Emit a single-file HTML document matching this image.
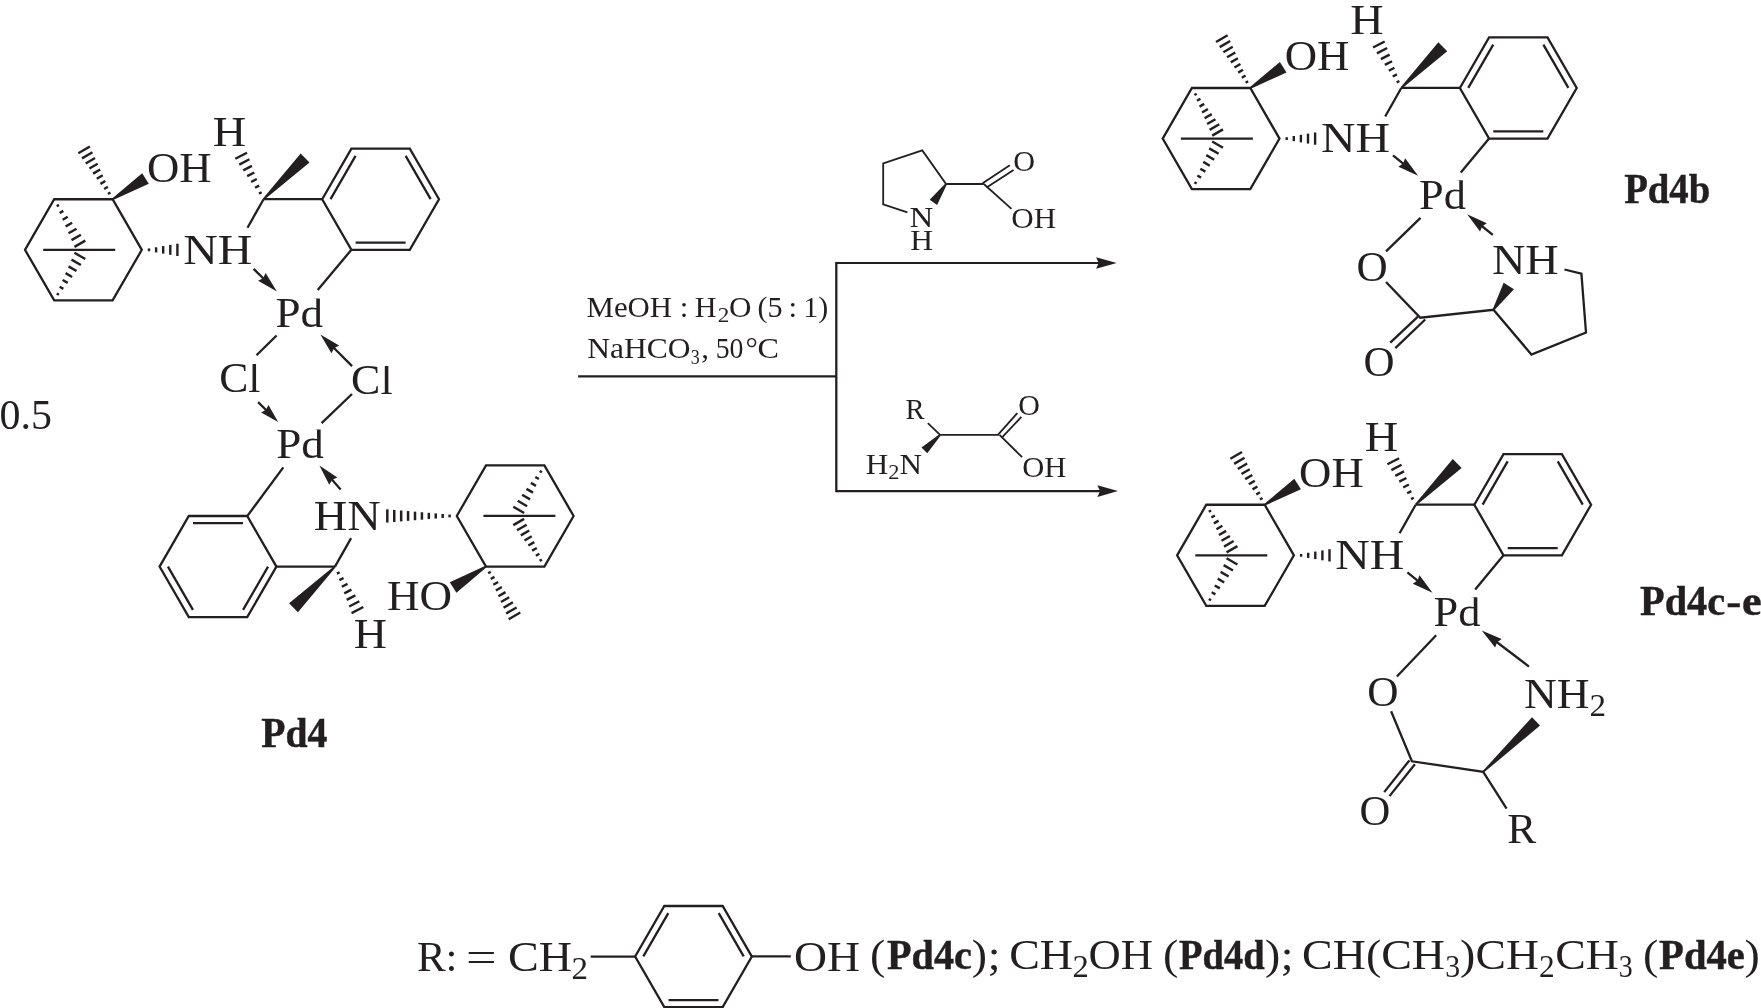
<!DOCTYPE html>
<html><head><meta charset="utf-8"><title>Scheme</title>
<style>
html,body{margin:0;padding:0;background:#fff;}
body{width:1761px;height:1008px;overflow:hidden;font-family:"Liberation Serif",serif;}
svg{display:block;will-change:transform;}
svg text{font-family:"Liberation Serif",serif;fill:#231f20;stroke:none;}
</style></head><body>
<svg width="1761" height="1008" viewBox="0 0 1761 1008" stroke="#231f20" stroke-width="2.3" stroke-linecap="butt" stroke-linejoin="miter" fill="none">
<defs><clipPath id="capclip"><rect x="-5" y="-28.3" width="80" height="45"/></clipPath></defs>
<polygon points="25,249.85 54.2,199.27 112.6,199.27 141.8,249.85 112.6,300.43 54.2,300.43" fill="none"/>
<line x1="43.2" y1="249.85" x2="115.2" y2="249.85"/>
<line x1="58.95" y1="204.9" x2="56.7" y2="206.2" stroke-width="2.4"/>
<line x1="63.34" y1="210.86" x2="59.66" y2="212.98" stroke-width="2.4"/>
<line x1="67.73" y1="216.81" x2="62.62" y2="219.76" stroke-width="2.4"/>
<line x1="72.12" y1="222.76" x2="65.58" y2="226.54" stroke-width="2.4"/>
<line x1="76.51" y1="228.71" x2="68.54" y2="233.31" stroke-width="2.4"/>
<line x1="80.9" y1="234.67" x2="71.5" y2="240.09" stroke-width="2.4"/>
<line x1="85.29" y1="240.62" x2="74.46" y2="246.87" stroke-width="2.4"/>
<line x1="56.7" y1="293.5" x2="58.95" y2="294.8" stroke-width="2.4"/>
<line x1="59.66" y1="286.72" x2="63.34" y2="288.84" stroke-width="2.4"/>
<line x1="62.62" y1="279.94" x2="67.73" y2="282.89" stroke-width="2.4"/>
<line x1="65.58" y1="273.16" x2="72.12" y2="276.94" stroke-width="2.4"/>
<line x1="68.54" y1="266.39" x2="76.51" y2="270.99" stroke-width="2.4"/>
<line x1="71.5" y1="259.61" x2="80.9" y2="265.03" stroke-width="2.4"/>
<line x1="74.46" y1="252.83" x2="85.29" y2="259.08" stroke-width="2.4"/>
<line x1="107.85" y1="194.05" x2="110.45" y2="192.55" stroke-width="2.4"/>
<line x1="104.16" y1="188.95" x2="107.88" y2="186.8" stroke-width="2.4"/>
<line x1="100.46" y1="183.86" x2="105.31" y2="181.06" stroke-width="2.4"/>
<line x1="96.77" y1="178.76" x2="102.75" y2="175.31" stroke-width="2.4"/>
<line x1="93.08" y1="173.66" x2="100.18" y2="169.56" stroke-width="2.4"/>
<line x1="89.39" y1="168.57" x2="97.61" y2="163.82" stroke-width="2.4"/>
<line x1="85.69" y1="163.47" x2="95.05" y2="158.07" stroke-width="2.4"/>
<line x1="82" y1="158.37" x2="92.48" y2="152.32" stroke-width="2.4"/>
<line x1="78.31" y1="153.28" x2="89.91" y2="146.58" stroke-width="2.4"/>
<polygon points="113.08,200.03 148.82,183.64 142.18,173.16 112.12,198.51" fill="#231f20" stroke="none"/>
<line x1="149" y1="248.45" x2="149" y2="251.25" stroke-width="2.4"/>
<line x1="156.1" y1="247.26" x2="156.1" y2="252.44" stroke-width="2.4"/>
<line x1="163.2" y1="246.07" x2="163.2" y2="253.62" stroke-width="2.4"/>
<line x1="170.3" y1="244.89" x2="170.3" y2="254.81" stroke-width="2.4"/>
<line x1="177.4" y1="243.7" x2="177.4" y2="256" stroke-width="2.4"/>
<line x1="263.6" y1="199.2" x2="247.5" y2="227.7"/>
<polygon points="322.2,199.2 351.4,148.62 409.8,148.62 439,199.2 409.8,249.78 351.4,249.78" fill="none"/>
<line x1="263.6" y1="199.2" x2="322.2" y2="199.2"/>
<line x1="330.54" y1="199.16" x2="355.54" y2="155.86"/>
<line x1="405.66" y1="155.86" x2="430.66" y2="199.16"/>
<line x1="405.6" y1="242.58" x2="355.6" y2="242.58"/>
<polygon points="264.23,199.84 309.53,162.58 300.67,153.62 262.97,198.56" fill="#231f20" stroke="none"/>
<line x1="259.01" y1="193.58" x2="261.68" y2="192.2" stroke-width="2.4"/>
<line x1="255.06" y1="187.78" x2="259.23" y2="185.62" stroke-width="2.4"/>
<line x1="251.1" y1="181.97" x2="256.79" y2="179.04" stroke-width="2.4"/>
<line x1="247.15" y1="176.17" x2="254.35" y2="172.45" stroke-width="2.4"/>
<line x1="243.2" y1="170.37" x2="251.91" y2="165.87" stroke-width="2.4"/>
<line x1="239.25" y1="164.56" x2="249.46" y2="159.29" stroke-width="2.4"/>
<line x1="235.29" y1="158.76" x2="247.02" y2="152.7" stroke-width="2.4"/>
<text transform="translate(146.96,181.9) scale(1.0482,1.0000)" font-size="42.7">OH</text>
<text transform="translate(183.21,264) scale(1.1186,1.0000)" font-size="42.7">NH</text>
<text transform="translate(212.66,145.7) scale(1.0828,1.0000)" font-size="42.7">H</text>
<line x1="253.6" y1="268.9" x2="263.43" y2="278.48"/>
<polygon points="276.9,291.6 258.09,280.81 263.08,278.13 265.63,273.08" fill="#231f20" stroke="none"/>
<line x1="351.4" y1="249.78" x2="317.7" y2="290"/>
<text transform="translate(275.59,326.7) scale(1.0544,1.0000)" font-size="42.7" clip-path="url(#capclip)">Pd</text>
<line x1="276.6" y1="335.5" x2="256.5" y2="355.3"/>
<line x1="352.1" y1="366.15" x2="333.7" y2="347.78"/>
<polygon points="320.4,334.5 339.08,345.52 334.06,348.14 331.45,353.16" fill="#231f20" stroke="none"/>
<text transform="translate(219.21,392.2) scale(1.0226,1.0000)" font-size="42.7" clip-path="url(#capclip)">Cl</text>
<text transform="translate(351.1,394.3) scale(1.0306,1.0000)" font-size="42.7" clip-path="url(#capclip)">Cl</text>
<line x1="258.1" y1="402.15" x2="266.29" y2="410.2"/>
<polygon points="278.2,421.9 261.15,412.43 265.93,409.85 268.43,405.01" fill="#231f20" stroke="none"/>
<line x1="352" y1="394" x2="321.6" y2="423.2"/>
<text transform="translate(276.19,457.7) scale(1.0544,1.0000)" font-size="42.7" clip-path="url(#capclip)">Pd</text>
<g transform="rotate(180 299.3 382.9)">
<polygon points="25,249.85 54.2,199.27 112.6,199.27 141.8,249.85 112.6,300.43 54.2,300.43" fill="none"/>
<line x1="43.2" y1="249.85" x2="115.2" y2="249.85"/>
<line x1="58.98" y1="204.95" x2="56.72" y2="206.25" stroke-width="2.4"/>
<line x1="62.74" y1="210.05" x2="59.26" y2="212.06" stroke-width="2.4"/>
<line x1="66.5" y1="215.15" x2="61.8" y2="217.87" stroke-width="2.4"/>
<line x1="70.26" y1="220.25" x2="64.34" y2="223.67" stroke-width="2.4"/>
<line x1="74.03" y1="225.36" x2="66.87" y2="229.48" stroke-width="2.4"/>
<line x1="77.79" y1="230.46" x2="69.41" y2="235.29" stroke-width="2.4"/>
<line x1="81.55" y1="235.56" x2="71.95" y2="241.1" stroke-width="2.4"/>
<line x1="85.31" y1="240.66" x2="74.49" y2="246.91" stroke-width="2.4"/>
<line x1="56.7" y1="293.5" x2="58.95" y2="294.8" stroke-width="2.4"/>
<line x1="59.66" y1="286.72" x2="63.34" y2="288.84" stroke-width="2.4"/>
<line x1="62.62" y1="279.94" x2="67.73" y2="282.89" stroke-width="2.4"/>
<line x1="65.58" y1="273.16" x2="72.12" y2="276.94" stroke-width="2.4"/>
<line x1="68.54" y1="266.39" x2="76.51" y2="270.99" stroke-width="2.4"/>
<line x1="71.5" y1="259.61" x2="80.9" y2="265.03" stroke-width="2.4"/>
<line x1="74.46" y1="252.83" x2="85.29" y2="259.08" stroke-width="2.4"/>
<line x1="107.85" y1="194.05" x2="110.45" y2="192.55" stroke-width="2.4"/>
<line x1="104.16" y1="188.95" x2="107.88" y2="186.8" stroke-width="2.4"/>
<line x1="100.46" y1="183.86" x2="105.31" y2="181.06" stroke-width="2.4"/>
<line x1="96.77" y1="178.76" x2="102.75" y2="175.31" stroke-width="2.4"/>
<line x1="93.08" y1="173.66" x2="100.18" y2="169.56" stroke-width="2.4"/>
<line x1="89.39" y1="168.57" x2="97.61" y2="163.82" stroke-width="2.4"/>
<line x1="85.69" y1="163.47" x2="95.05" y2="158.07" stroke-width="2.4"/>
<line x1="82" y1="158.37" x2="92.48" y2="152.32" stroke-width="2.4"/>
<line x1="78.31" y1="153.28" x2="89.91" y2="146.58" stroke-width="2.4"/>
<polygon points="113.08,200.03 148.82,183.64 142.18,173.16 112.12,198.51" fill="#231f20" stroke="none"/>
<line x1="263.6" y1="199.2" x2="247.5" y2="227.7"/>
<polygon points="322.2,199.2 351.4,148.62 409.8,148.62 439,199.2 409.8,249.78 351.4,249.78" fill="none"/>
<line x1="263.6" y1="199.2" x2="322.2" y2="199.2"/>
<line x1="330.54" y1="199.16" x2="355.54" y2="155.86"/>
<line x1="405.66" y1="155.86" x2="430.66" y2="199.16"/>
<line x1="405.6" y1="242.58" x2="355.6" y2="242.58"/>
<polygon points="264.23,199.84 309.53,162.58 300.67,153.62 262.97,198.56" fill="#231f20" stroke="none"/>
<line x1="259.01" y1="193.58" x2="261.68" y2="192.2" stroke-width="2.4"/>
<line x1="255.06" y1="187.78" x2="259.23" y2="185.62" stroke-width="2.4"/>
<line x1="251.1" y1="181.97" x2="256.79" y2="179.04" stroke-width="2.4"/>
<line x1="247.15" y1="176.17" x2="254.35" y2="172.45" stroke-width="2.4"/>
<line x1="243.2" y1="170.37" x2="251.91" y2="165.87" stroke-width="2.4"/>
<line x1="239.25" y1="164.56" x2="249.46" y2="159.29" stroke-width="2.4"/>
<line x1="235.29" y1="158.76" x2="247.02" y2="152.7" stroke-width="2.4"/>
</g>
<line x1="449.6" y1="517.35" x2="449.6" y2="514.55" stroke-width="2.5"/>
<line x1="442.68" y1="517.93" x2="442.68" y2="513.97" stroke-width="2.5"/>
<line x1="435.76" y1="518.51" x2="435.76" y2="513.39" stroke-width="2.5"/>
<line x1="428.84" y1="519.08" x2="428.84" y2="512.82" stroke-width="2.5"/>
<line x1="421.92" y1="519.66" x2="421.92" y2="512.24" stroke-width="2.5"/>
<line x1="415" y1="520.24" x2="415" y2="511.66" stroke-width="2.5"/>
<line x1="408.08" y1="520.82" x2="408.08" y2="511.08" stroke-width="2.5"/>
<line x1="401.16" y1="521.39" x2="401.16" y2="510.51" stroke-width="2.5"/>
<line x1="394.24" y1="521.97" x2="394.24" y2="509.93" stroke-width="2.5"/>
<line x1="387.32" y1="522.55" x2="387.32" y2="509.35" stroke-width="2.5"/>
<line x1="283.3" y1="467.4" x2="247.4" y2="515.9"/>
<line x1="340.65" y1="489.4" x2="331.86" y2="479.48"/>
<polygon points="319.4,465.4 337.36,477.54 332.19,479.85 329.28,484.7" fill="#231f20" stroke="none"/>
<text transform="translate(313.85,529.9) scale(1.0868,1.0000)" font-size="42.7">HN</text>
<text transform="translate(386.99,609.6) scale(1.0551,1.0000)" font-size="42.7">HO</text>
<text transform="translate(353.66,647.7) scale(1.0793,1.0000)" font-size="42.7">H</text>
<text transform="translate(-0.39,429) scale(0.9823,1.0000)" font-size="42.7">0.5</text>
<text transform="translate(261.23,747.1) scale(0.9290,1.0000)" font-size="42.7" font-weight="bold" stroke="#231f20" stroke-width="0.45" style="stroke:#231f20">Pd4</text>
<line x1="578.1" y1="376.4" x2="836.3" y2="376.4" stroke-width="2.1"/>
<polyline points="1099.2,262.95 836.3,262.95" fill="none" stroke-width="2.1"/>
<polygon points="1116.7,262.95 1096.1,257.15 1098.7,262.95 1096.1,268.75" fill="#231f20" stroke="none"/>
<polyline points="1100.5,491.1 836.3,491.1" fill="none" stroke-width="2.1"/>
<polygon points="1118,491.1 1097.4,485.3 1100,491.1 1097.4,496.9" fill="#231f20" stroke="none"/>
<line x1="836.3" y1="261.9" x2="836.3" y2="492.15" stroke-width="2.3"/>
<text transform="translate(586.51,316.7) scale(1.0776,1.0000)" font-size="28.6">MeOH</text>
<text transform="translate(679.69,316.7) scale(1.0800,1.0000)" font-size="28.6">:</text>
<text transform="translate(694.63,316.7) scale(1.0532,1.0000)" font-size="28.6">H</text>
<text transform="translate(729.03,316.7) scale(1.0872,1.0000)" font-size="28.6">O</text>
<text transform="translate(757.57,316.7) scale(1.0536,1.0000)" font-size="28.6">(5</text>
<text transform="translate(788.49,316.7) scale(1.0800,1.0000)" font-size="28.6">:</text>
<text transform="translate(803.26,316.7) scale(1.0475,1.0000)" font-size="28.6">1)</text>
<text transform="translate(717.78,321.9) scale(1.1108,1.0000)" font-size="20.88">2</text>
<text transform="translate(587.18,358.1) scale(1.1034,1.0000)" font-size="28.6">NaHCO</text>
<text transform="translate(701.28,358.1) scale(1.0800,1.0000)" font-size="28.6">,</text>
<text transform="translate(715.69,358.1) scale(0.9708,1.0000)" font-size="28.6">50</text>
<text transform="translate(745.49,358.1) scale(1.0800,1.0000)" font-size="28.6">°</text>
<text transform="translate(757.38,358.1) scale(1.1267,1.0000)" font-size="28.6">C</text>
<text transform="translate(690.64,363.5) scale(0.8582,1.0000)" font-size="20.88">3</text>
<g stroke-width="1.8">
<polyline points="907.4,212.3 883.2,204.4 883.2,163.3 922.3,150.4 946.1,184 983.8,184" fill="none"/>
<polygon points="945.36,183.49 929.7,199.84 937.1,204.96 946.84,184.51" fill="#231f20" stroke="none"/>
<line x1="983.8" y1="184" x2="1011.5" y2="208.8"/>
<line x1="982.6" y1="183.2" x2="1009.8" y2="165.3"/>
<line x1="986.6" y1="187.6" x2="1013.6" y2="170"/>
</g>
<text transform="translate(909.54,226.6) scale(1.1614,1.0000)" font-size="28.4">N</text>
<text transform="translate(910.18,249.6) scale(1.1136,1.0000)" font-size="28.4">H</text>
<text transform="translate(1013.26,170.5) scale(1.0618,1.0000)" font-size="28.4">O</text>
<text transform="translate(1011.23,228.2) scale(1.0943,1.0000)" font-size="28.4">OH</text>
<g stroke-width="1.8">
<line x1="927.8" y1="423.1" x2="940.1" y2="434.8"/>
<line x1="940.1" y1="434.8" x2="998.7" y2="434.8"/>
<polygon points="939.47,434.16 921.52,447.38 927.28,453.22 940.73,435.44" fill="#231f20" stroke="none"/>
<line x1="997.9" y1="434.8" x2="1017.3" y2="413.2"/>
<line x1="1002.3" y1="437.2" x2="1021.4" y2="416.9"/>
<line x1="999.5" y1="434.8" x2="1022.1" y2="457.2"/>
</g>
<text transform="translate(905.57,418.5) scale(1.0060,1.0000)" font-size="28.4">R</text>
<text transform="translate(1018.27,415.4) scale(1.0563,1.0000)" font-size="28.4">O</text>
<text transform="translate(1022.25,476.7) scale(1.0763,1.0000)" font-size="28.4">OH</text>
<text transform="translate(865.8,473.7) scale(1.0972,1.0000)" font-size="28.4">H<tspan font-size="20.45" dy="5.4">2</tspan><tspan font-size="28.4" dy="-5.4">N</tspan></text>
<g transform="translate(1137.7 -111.25)">
<polygon points="25,249.85 54.2,199.27 112.6,199.27 141.8,249.85 112.6,300.43 54.2,300.43" fill="none"/>
<line x1="43.2" y1="249.85" x2="115.2" y2="249.85"/>
<line x1="58.98" y1="204.95" x2="56.72" y2="206.25" stroke-width="2.4"/>
<line x1="62.74" y1="210.05" x2="59.26" y2="212.06" stroke-width="2.4"/>
<line x1="66.5" y1="215.15" x2="61.8" y2="217.87" stroke-width="2.4"/>
<line x1="70.26" y1="220.25" x2="64.34" y2="223.67" stroke-width="2.4"/>
<line x1="74.03" y1="225.36" x2="66.87" y2="229.48" stroke-width="2.4"/>
<line x1="77.79" y1="230.46" x2="69.41" y2="235.29" stroke-width="2.4"/>
<line x1="81.55" y1="235.56" x2="71.95" y2="241.1" stroke-width="2.4"/>
<line x1="85.31" y1="240.66" x2="74.49" y2="246.91" stroke-width="2.4"/>
<line x1="56.7" y1="293.5" x2="58.95" y2="294.8" stroke-width="2.4"/>
<line x1="59.66" y1="286.72" x2="63.34" y2="288.84" stroke-width="2.4"/>
<line x1="62.62" y1="279.94" x2="67.73" y2="282.89" stroke-width="2.4"/>
<line x1="65.58" y1="273.16" x2="72.12" y2="276.94" stroke-width="2.4"/>
<line x1="68.54" y1="266.39" x2="76.51" y2="270.99" stroke-width="2.4"/>
<line x1="71.5" y1="259.61" x2="80.9" y2="265.03" stroke-width="2.4"/>
<line x1="74.46" y1="252.83" x2="85.29" y2="259.08" stroke-width="2.4"/>
<line x1="107.85" y1="194.05" x2="110.45" y2="192.55" stroke-width="2.4"/>
<line x1="104.16" y1="188.95" x2="107.88" y2="186.8" stroke-width="2.4"/>
<line x1="100.46" y1="183.86" x2="105.31" y2="181.06" stroke-width="2.4"/>
<line x1="96.77" y1="178.76" x2="102.75" y2="175.31" stroke-width="2.4"/>
<line x1="93.08" y1="173.66" x2="100.18" y2="169.56" stroke-width="2.4"/>
<line x1="89.39" y1="168.57" x2="97.61" y2="163.82" stroke-width="2.4"/>
<line x1="85.69" y1="163.47" x2="95.05" y2="158.07" stroke-width="2.4"/>
<line x1="82" y1="158.37" x2="92.48" y2="152.32" stroke-width="2.4"/>
<line x1="78.31" y1="153.28" x2="89.91" y2="146.58" stroke-width="2.4"/>
<polygon points="113.08,200.03 148.82,183.64 142.18,173.16 112.12,198.51" fill="#231f20" stroke="none"/>
<line x1="149" y1="248.45" x2="149" y2="251.25" stroke-width="2.4"/>
<line x1="156.1" y1="247.26" x2="156.1" y2="252.44" stroke-width="2.4"/>
<line x1="163.2" y1="246.07" x2="163.2" y2="253.62" stroke-width="2.4"/>
<line x1="170.3" y1="244.89" x2="170.3" y2="254.81" stroke-width="2.4"/>
<line x1="177.4" y1="243.7" x2="177.4" y2="256" stroke-width="2.4"/>
<line x1="263.6" y1="199.2" x2="247.5" y2="227.7"/>
<polygon points="322.2,199.2 351.4,148.62 409.8,148.62 439,199.2 409.8,249.78 351.4,249.78" fill="none"/>
<line x1="263.6" y1="199.2" x2="322.2" y2="199.2"/>
<line x1="330.54" y1="199.16" x2="355.54" y2="155.86"/>
<line x1="405.66" y1="155.86" x2="430.66" y2="199.16"/>
<line x1="405.6" y1="242.58" x2="355.6" y2="242.58"/>
<polygon points="264.23,199.84 309.53,162.58 300.67,153.62 262.97,198.56" fill="#231f20" stroke="none"/>
<line x1="259.01" y1="193.58" x2="261.68" y2="192.2" stroke-width="2.4"/>
<line x1="255.06" y1="187.78" x2="259.23" y2="185.62" stroke-width="2.4"/>
<line x1="251.1" y1="181.97" x2="256.79" y2="179.04" stroke-width="2.4"/>
<line x1="247.15" y1="176.17" x2="254.35" y2="172.45" stroke-width="2.4"/>
<line x1="243.2" y1="170.37" x2="251.91" y2="165.87" stroke-width="2.4"/>
<line x1="239.25" y1="164.56" x2="249.46" y2="159.29" stroke-width="2.4"/>
<line x1="235.29" y1="158.76" x2="247.02" y2="152.7" stroke-width="2.4"/>
</g>
<text transform="translate(1284.66,69.8) scale(1.0482,1.0000)" font-size="42.7">OH</text>
<text transform="translate(1320.91,151.9) scale(1.1186,1.0000)" font-size="42.7">NH</text>
<text transform="translate(1350.36,33.6) scale(1.0828,1.0000)" font-size="42.7">H</text>
<line x1="1393" y1="155.4" x2="1403.47" y2="163.85"/>
<polygon points="1418.1,175.65 1398.37,166.67 1403.08,163.53 1405.15,158.26" fill="#231f20" stroke="none"/>
<line x1="1489.1" y1="138.53" x2="1460.8" y2="172.6"/>
<text transform="translate(1419.11,208.6) scale(1.0383,1.0000)" font-size="42.7" clip-path="url(#capclip)">Pd</text>
<line x1="1420.5" y1="217.9" x2="1386" y2="251.4"/>
<text transform="translate(1356.43,280.9) scale(1.0100,1.0000)" font-size="42.7">O</text>
<line x1="1492.8" y1="234.95" x2="1481.73" y2="226.01"/>
<polygon points="1467.1,214.2 1486.83,223.19 1482.12,226.32 1480.05,231.59" fill="#231f20" stroke="none"/>
<text transform="translate(1491.96,273.5) scale(1.0831,1.0000)" font-size="42.7">NH</text>
<polyline points="1564.5,269.5 1581.4,273.7 1586,332.5 1531.4,354.5 1493.5,309.8 1420.3,317.7 1386,282" fill="none"/>
<polygon points="1494.26,310.29 1513.93,289.3 1503.67,282.7 1492.74,309.31" fill="#231f20" stroke="none"/>
<line x1="1417.9" y1="316.6" x2="1390.3" y2="342.6"/>
<line x1="1425.2" y1="319.5" x2="1395.3" y2="348.1"/>
<text transform="translate(1363.54,375.7) scale(1.0063,1.0000)" font-size="42.7">O</text>
<text transform="translate(1624.14,202.9) scale(0.9071,1.0000)" font-size="42.7" font-weight="bold" stroke="#231f20" stroke-width="0.45" style="stroke:#231f20">Pd4b</text>
<g transform="translate(1152.1 305.5)">
<polygon points="25,249.85 54.2,199.27 112.6,199.27 141.8,249.85 112.6,300.43 54.2,300.43" fill="none"/>
<line x1="43.2" y1="249.85" x2="115.2" y2="249.85"/>
<line x1="58.98" y1="204.95" x2="56.72" y2="206.25" stroke-width="2.4"/>
<line x1="62.74" y1="210.05" x2="59.26" y2="212.06" stroke-width="2.4"/>
<line x1="66.5" y1="215.15" x2="61.8" y2="217.87" stroke-width="2.4"/>
<line x1="70.26" y1="220.25" x2="64.34" y2="223.67" stroke-width="2.4"/>
<line x1="74.03" y1="225.36" x2="66.87" y2="229.48" stroke-width="2.4"/>
<line x1="77.79" y1="230.46" x2="69.41" y2="235.29" stroke-width="2.4"/>
<line x1="81.55" y1="235.56" x2="71.95" y2="241.1" stroke-width="2.4"/>
<line x1="85.31" y1="240.66" x2="74.49" y2="246.91" stroke-width="2.4"/>
<line x1="56.7" y1="293.5" x2="58.95" y2="294.8" stroke-width="2.4"/>
<line x1="59.66" y1="286.72" x2="63.34" y2="288.84" stroke-width="2.4"/>
<line x1="62.62" y1="279.94" x2="67.73" y2="282.89" stroke-width="2.4"/>
<line x1="65.58" y1="273.16" x2="72.12" y2="276.94" stroke-width="2.4"/>
<line x1="68.54" y1="266.39" x2="76.51" y2="270.99" stroke-width="2.4"/>
<line x1="71.5" y1="259.61" x2="80.9" y2="265.03" stroke-width="2.4"/>
<line x1="74.46" y1="252.83" x2="85.29" y2="259.08" stroke-width="2.4"/>
<line x1="107.85" y1="194.05" x2="110.45" y2="192.55" stroke-width="2.4"/>
<line x1="104.16" y1="188.95" x2="107.88" y2="186.8" stroke-width="2.4"/>
<line x1="100.46" y1="183.86" x2="105.31" y2="181.06" stroke-width="2.4"/>
<line x1="96.77" y1="178.76" x2="102.75" y2="175.31" stroke-width="2.4"/>
<line x1="93.08" y1="173.66" x2="100.18" y2="169.56" stroke-width="2.4"/>
<line x1="89.39" y1="168.57" x2="97.61" y2="163.82" stroke-width="2.4"/>
<line x1="85.69" y1="163.47" x2="95.05" y2="158.07" stroke-width="2.4"/>
<line x1="82" y1="158.37" x2="92.48" y2="152.32" stroke-width="2.4"/>
<line x1="78.31" y1="153.28" x2="89.91" y2="146.58" stroke-width="2.4"/>
<polygon points="113.08,200.03 148.82,183.64 142.18,173.16 112.12,198.51" fill="#231f20" stroke="none"/>
<line x1="149" y1="248.45" x2="149" y2="251.25" stroke-width="2.4"/>
<line x1="156.1" y1="247.26" x2="156.1" y2="252.44" stroke-width="2.4"/>
<line x1="163.2" y1="246.07" x2="163.2" y2="253.62" stroke-width="2.4"/>
<line x1="170.3" y1="244.89" x2="170.3" y2="254.81" stroke-width="2.4"/>
<line x1="177.4" y1="243.7" x2="177.4" y2="256" stroke-width="2.4"/>
<line x1="263.6" y1="199.2" x2="247.5" y2="227.7"/>
<polygon points="322.2,199.2 351.4,148.62 409.8,148.62 439,199.2 409.8,249.78 351.4,249.78" fill="none"/>
<line x1="263.6" y1="199.2" x2="322.2" y2="199.2"/>
<line x1="330.54" y1="199.16" x2="355.54" y2="155.86"/>
<line x1="405.66" y1="155.86" x2="430.66" y2="199.16"/>
<line x1="405.6" y1="242.58" x2="355.6" y2="242.58"/>
<polygon points="264.23,199.84 309.53,162.58 300.67,153.62 262.97,198.56" fill="#231f20" stroke="none"/>
<line x1="259.01" y1="193.58" x2="261.68" y2="192.2" stroke-width="2.4"/>
<line x1="255.06" y1="187.78" x2="259.23" y2="185.62" stroke-width="2.4"/>
<line x1="251.1" y1="181.97" x2="256.79" y2="179.04" stroke-width="2.4"/>
<line x1="247.15" y1="176.17" x2="254.35" y2="172.45" stroke-width="2.4"/>
<line x1="243.2" y1="170.37" x2="251.91" y2="165.87" stroke-width="2.4"/>
<line x1="239.25" y1="164.56" x2="249.46" y2="159.29" stroke-width="2.4"/>
<line x1="235.29" y1="158.76" x2="247.02" y2="152.7" stroke-width="2.4"/>
</g>
<text transform="translate(1299.06,486.8) scale(1.0482,1.0000)" font-size="42.7">OH</text>
<text transform="translate(1335.31,568.9) scale(1.1186,1.0000)" font-size="42.7">NH</text>
<text transform="translate(1364.76,450.6) scale(1.0828,1.0000)" font-size="42.7">H</text>
<line x1="1407.4" y1="572.4" x2="1417.87" y2="580.85"/>
<polygon points="1432.5,592.65 1412.77,583.67 1417.48,580.53 1419.55,575.26" fill="#231f20" stroke="none"/>
<line x1="1503.5" y1="555.28" x2="1475.2" y2="589.5"/>
<text transform="translate(1433.51,625.6) scale(1.0383,1.0000)" font-size="42.7" clip-path="url(#capclip)">Pd</text>
<line x1="1436.2" y1="635.2" x2="1396.9" y2="676.5"/>
<text transform="translate(1367.33,706.2) scale(1.0136,1.0000)" font-size="42.7">O</text>
<line x1="1529" y1="666.6" x2="1496.66" y2="641.99"/>
<polygon points="1481.7,630.6 1501.68,639.02 1497.06,642.29 1495.14,647.62" fill="#231f20" stroke="none"/>
<text transform="translate(1524.08,707.7) scale(1.0632,1.0000)" font-size="42.7">NH<tspan font-size="31.17" dy="8.11">2</tspan></text>
<polyline points="1391.1,711.3 1411.9,761.3 1483.2,771.9 1506.6,808.6" fill="none"/>
<polygon points="1483.82,772.55 1540.01,725.59 1531.99,717.21 1482.58,771.25" fill="#231f20" stroke="none"/>
<line x1="1409.4" y1="760.4" x2="1384.2" y2="792.1"/>
<line x1="1414.9" y1="764.3" x2="1389.5" y2="796.1"/>
<text transform="translate(1359.55,824.8) scale(0.9990,1.0000)" font-size="42.7">O</text>
<text transform="translate(1507.34,842.7) scale(1.0184,1.0000)" font-size="42.7">R</text>
<text transform="translate(1640.01,614.9) scale(0.9451,1.0000)" font-size="42.7" font-weight="bold" stroke="#231f20" stroke-width="0.45" style="stroke:#231f20">Pd4c</text>
<text transform="translate(1726.13,614.9) scale(1.0579,1.0000)" font-size="42.7" font-weight="bold" stroke="#231f20" stroke-width="0.45" style="stroke:#231f20">-</text>
<text transform="translate(1741.99,614.9) scale(1.0368,1.0000)" font-size="42.7" font-weight="bold" stroke="#231f20" stroke-width="0.45" style="stroke:#231f20">e</text>
<text transform="translate(416.95,970.8) scale(1.0116,1.0000)" font-size="42.5">R:</text>
<text transform="translate(466.09,970.8) scale(1.2751,1.0000)" font-size="42.5">=</text>
<text transform="translate(508.01,970.8) scale(1.0864,1.0000)" font-size="42.5">CH</text>
<text transform="translate(571.55,978.9) scale(1.0659,1.0000)" font-size="31">2</text>
<line x1="590.7" y1="956.6" x2="635.6" y2="956.6"/>
<polygon points="635.15,956.55 664.32,906.02 722.67,906.02 751.85,956.55 722.67,1007.08 664.33,1007.08" fill="none"/>
<line x1="643.31" y1="956.41" x2="668.29" y2="913.15"/>
<line x1="718.71" y1="913.15" x2="743.69" y2="956.41"/>
<line x1="718.47" y1="1000.08" x2="668.53" y2="1000.08"/>
<line x1="751.4" y1="956.4" x2="790.8" y2="956.4"/>
<text transform="translate(794.08,970.8) scale(1.0754,1.0000)" font-size="42.5">OH</text>
<text transform="translate(870.11,969) scale(1.0800,1.0000)" font-size="42.5">(</text>
<text transform="translate(887.02,969) scale(0.9462,1.0000)" font-size="42.5" font-weight="bold" stroke="#231f20" stroke-width="0.45" style="stroke:#231f20">Pd4c</text>
<text transform="translate(971.68,969) scale(1.0800,1.0000)" font-size="42.5">)</text>
<text transform="translate(987.74,969) scale(1.0800,1.0000)" font-size="42.5">;</text>
<text transform="translate(1009.22,969) scale(1.0810,1.0000)" font-size="42.5">CH</text>
<text transform="translate(1088.47,969) scale(1.0497,1.0000)" font-size="42.5">OH</text>
<text transform="translate(1163.03,969) scale(1.0800,1.0000)" font-size="42.5">(</text>
<text transform="translate(1179.05,969) scale(0.9047,1.0000)" font-size="42.5" font-weight="bold" stroke="#231f20" stroke-width="0.45" style="stroke:#231f20">Pd4d</text>
<text transform="translate(1264.98,969) scale(1.0800,1.0000)" font-size="42.5">)</text>
<text transform="translate(1280.64,969) scale(1.0800,1.0000)" font-size="42.5">;</text>
<text transform="translate(1302.12,969) scale(1.0792,1.0000)" font-size="42.5">CH</text>
<text transform="translate(1366.03,969) scale(1.0800,1.0000)" font-size="42.5">(</text>
<text transform="translate(1381.22,969) scale(1.0810,1.0000)" font-size="42.5">CH</text>
<text transform="translate(1459.93,969) scale(1.0800,1.0000)" font-size="42.5">)</text>
<text transform="translate(1475.53,969) scale(1.0721,1.0000)" font-size="42.5">CH</text>
<text transform="translate(1555.22,969) scale(1.0775,1.0000)" font-size="42.5">CH</text>
<text transform="translate(1643.03,969) scale(1.0800,1.0000)" font-size="42.5">(</text>
<text transform="translate(1659.11,969) scale(0.9557,1.0000)" font-size="42.5" font-weight="bold" stroke="#231f20" stroke-width="0.45" style="stroke:#231f20">Pd4e</text>
<text transform="translate(1744.38,969) scale(1.0800,1.0000)" font-size="42.5">)</text>
<text transform="translate(1072.56,977) scale(1.0538,1.0000)" font-size="31">2</text>
<text transform="translate(1445.27,977) scale(0.9607,1.0000)" font-size="31">3</text>
<text transform="translate(1538.92,977) scale(1.0136,1.0000)" font-size="31">2</text>
<text transform="translate(1618.76,977) scale(0.8982,1.0000)" font-size="31">3</text>
</svg>
</body></html>
